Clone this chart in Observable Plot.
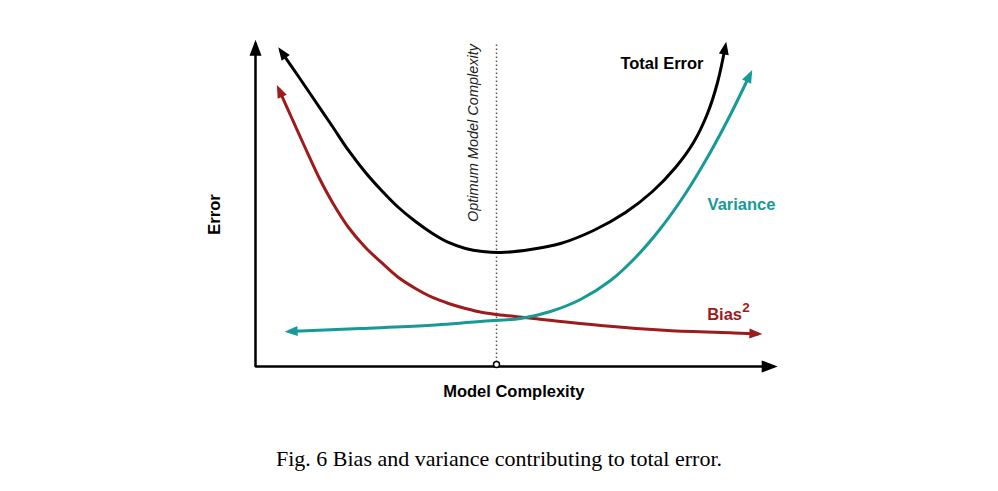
<!DOCTYPE html>
<html>
<head>
<meta charset="utf-8">
<script src="https://cdn.jsdelivr.net/npm/d3@7"></script>
<script src="https://cdn.jsdelivr.net/npm/@observablehq/plot@0.6"></script>
<style>
html, body { margin: 0; padding: 0; background: #fff; overflow: hidden; }
#wrap { position: relative; width: 998px; height: 491px; }
#caption { position: absolute; left: 0; width: 998px; top: 446px; text-align: center;
  font-family: "Liberation Serif", "Times New Roman", serif; font-size: 22px; color: #000; }
</style>
</head>
<body>
<div id="wrap">
  <div id="chart"></div>
  <div id="caption">Fig. 6 Bias and variance contributing to total error.</div>
</div>
<script>
// Model complexity (x) and error (y), arbitrary units 0–10
const totalX = [0.479, 0.824, 1.149, 1.475, 1.782, 2.107, 2.433, 2.739, 3.065, 3.391, 3.697, 4.023, 4.349, 4.693, 5.268, 5.843, 6.475, 7.088, 7.605, 8.046, 8.391, 8.659, 8.851, 9.004];
const totalY = [9.693, 8.896, 8.129, 7.362, 6.626, 5.951, 5.368, 4.877, 4.448, 4.080, 3.804, 3.620, 3.528, 3.497, 3.589, 3.773, 4.172, 4.724, 5.368, 6.104, 6.871, 7.761, 8.712, 9.847];

const varianceX = [0.632, 2.011, 3.295, 4.559, 5.077, 5.651, 6.226, 6.801, 7.280, 7.759, 8.238, 8.678, 9.080, 9.483];
const varianceY = [1.074, 1.166, 1.258, 1.411, 1.472, 1.687, 2.055, 2.638, 3.344, 4.233, 5.307, 6.472, 7.669, 8.988];

const biasX = [0.441, 0.690, 0.958, 1.207, 1.475, 1.782, 2.107, 2.433, 2.739, 3.065, 3.391, 3.697, 4.023, 4.349, 4.789, 5.326, 6.609, 7.893, 9.157, 9.636];
const biasY = [8.528, 7.638, 6.687, 5.828, 5.031, 4.264, 3.650, 3.160, 2.730, 2.393, 2.117, 1.933, 1.779, 1.656, 1.564, 1.472, 1.258, 1.104, 1.030, 1.000];

const optimumComplexity = 4.617;
const axisCorner = [[0, 9.92], [0, 0], [9.94, 0]];

// Text annotations (anchor positions in data units)
const seriesLabels = [
  {text: "Total Error", x: 7.787, y: 9.285, color: "#000000"},
  {text: "Variance", x: 9.310, y: 4.954, color: "#179a97"}
];
const biasLabel = {text: "Bias", x: 8.653, y: 1.589};
const biasSup = {text: "2", x: 9.324, y: 1.819};
const axisLabels = {x: {text: "Model Complexity", x: 4.948, y: -0.767}, y: {text: "Error", x: -0.785, y: 4.663}};
const optimumLabel = {text: "Optimum Model Complexity", x: 4.176, y: 7.163};

const zip = (xs, ys) => xs.map((x, i) => ({x, y: ys[i]}));
const total = zip(totalX, totalY);
const variance = zip(varianceX, varianceY);
const bias = zip(biasX, biasY);

const TEAL = "#179a97";
const RED = "#9e1b1b";

function tri(len, wid, halfStroke) {
  const off = halfStroke * len / (wid / 2);
  return (color) => {
    const m = d3.create("svg:marker")
      .attr("viewBox", `${-len} ${-wid / 2} ${len + off + 1} ${wid}`)
      .attr("markerWidth", len + off + 1)
      .attr("markerHeight", wid)
      .attr("markerUnits", "userSpaceOnUse")
      .attr("refX", -off)
      .attr("refY", 0)
      .attr("orient", "auto-start-reverse")
      .attr("overflow", "visible");
    m.append("path")
      .attr("d", `M${-len},${-wid / 2}L0,0L${-len},${wid / 2}Z`)
      .attr("fill", color)
      .attr("stroke", "none");
    return m.node();
  };
}

const curveArrow = tri(13, 10, 1.5);
const axisArrow = tri(16, 12, 1.25);

const FONT = "'Liberation Sans', Arial, Helvetica, sans-serif";

const chart = Plot.plot({
  width: 998,
  height: 420,
  marginLeft: 255,
  marginRight: 221,
  marginTop: 40,
  marginBottom: 54,
  x: {domain: [0, 10], axis: null},
  y: {domain: [0, 10], axis: null},
  style: {fontFamily: FONT, background: "white", overflow: "visible"},
  marks: [
    Plot.ruleX([optimumComplexity], {y1: 0, y2: 9.94, stroke: "#555", strokeWidth: 1.5, strokeDasharray: "1.5,2.5"}),
    Plot.line(axisCorner, {stroke: "#000", strokeWidth: 2.5, strokeLinejoin: "miter", strokeLinecap: "butt",
      markerStart: axisArrow, markerEnd: axisArrow}),
    Plot.line(bias, {x: "x", y: "y", curve: "catmull-rom", stroke: RED, strokeWidth: 3, strokeLinecap: "butt",
      markerStart: curveArrow, markerEnd: curveArrow}),
    Plot.line(variance, {x: "x", y: "y", curve: "catmull-rom", stroke: TEAL, strokeWidth: 3, strokeLinecap: "butt",
      markerStart: curveArrow, markerEnd: curveArrow}),
    Plot.line(total, {x: "x", y: "y", curve: "catmull-rom", stroke: "#000", strokeWidth: 3, strokeLinecap: "butt",
      markerStart: curveArrow, markerEnd: curveArrow}),
    Plot.dot([optimumComplexity], {x: d => d, y: 0, r: 3, fill: "white", stroke: "#000", strokeWidth: 1.5, dy: -2}),
    Plot.text(seriesLabels, {x: "x", y: "y", text: "text", fill: "color", fontSize: 16.5, fontWeight: "bold"}),
    Plot.text([biasLabel], {x: "x", y: "y", text: "text", fill: RED, fontSize: 16.5, fontWeight: "bold", textAnchor: "start"}),
    Plot.text([biasSup], {x: "x", y: "y", text: "text", fill: RED, fontSize: 13.5, fontWeight: "bold", textAnchor: "start"}),
    Plot.text([axisLabels.x], {x: "x", y: "y", text: "text", fill: "#000", fontSize: 16.5, fontWeight: "bold"}),
    Plot.text([axisLabels.y], {x: "x", y: "y", text: "text", fill: "#000", fontSize: 16.5, fontWeight: "bold", rotate: -90}),
    Plot.text([optimumLabel], {x: "x", y: "y", text: "text", fill: "#222", fontSize: 14.5, fontStyle: "italic", rotate: -90})
  ]
});
document.getElementById("chart").appendChild(chart);
</script>
</body>
</html>
